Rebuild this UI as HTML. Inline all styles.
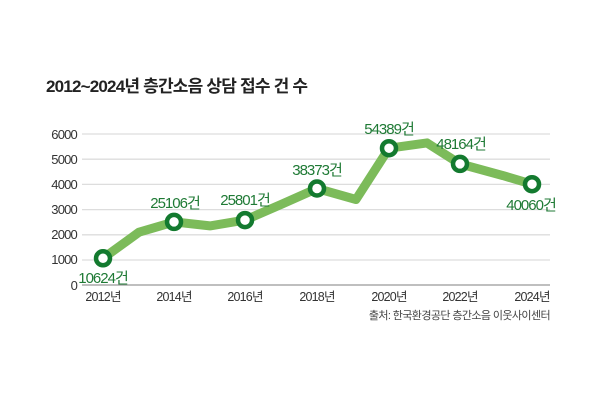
<!DOCTYPE html>
<html><head><meta charset="utf-8"><style>
body{margin:0;background:#fff;}
svg text{font-family:"Liberation Sans","Noto Sans CJK KR",sans-serif;}
</style></head><body>
<svg width="600" height="400" viewBox="0 0 600 400">
<rect width="600" height="400" fill="#fff"/>
<text x="46" y="92" font-size="17" font-weight="bold" fill="#222" letter-spacing="-0.8">2012~2024년 층간소음 상담 접수 건 수</text>
<g stroke="#ddd" stroke-width="1.3">
<line x1="82" y1="134" x2="550" y2="134"/>
<line x1="82" y1="159.2" x2="550" y2="159.2"/>
<line x1="82" y1="184.4" x2="550" y2="184.4"/>
<line x1="82" y1="209.6" x2="550" y2="209.6"/>
<line x1="82" y1="234.8" x2="550" y2="234.8"/>
<line x1="82" y1="260" x2="550" y2="260"/>
</g>
<line x1="82" y1="285" x2="550" y2="285" stroke="#999" stroke-width="1.3"/>
<g font-size="13" fill="#333" text-anchor="end" letter-spacing="-0.8">
<text x="77" y="139">6000</text><text x="77" y="164">5000</text><text x="77" y="189">4000</text>
<text x="77" y="214">3000</text><text x="77" y="239">2000</text><text x="77" y="264">1000</text><text x="77" y="290">0</text>
</g>
<g font-size="12.5" fill="#333" text-anchor="middle" letter-spacing="-0.8">
<text x="103" y="301">2012년</text><text x="174" y="301">2014년</text><text x="245" y="301">2016년</text>
<text x="317" y="301">2018년</text><text x="389" y="301">2020년</text><text x="460" y="301">2022년</text><text x="532" y="301">2024년</text>
</g>
<text x="550" y="319" font-size="11" fill="#444" text-anchor="end" letter-spacing="-0.6">출처: 한국환경공단 층간소음 이웃사이센터</text>
<polyline fill="none" stroke="#7cbb5a" stroke-width="9" stroke-linejoin="round" stroke-linecap="round"
points="103,258.3 139,232.2 174,221.9 210,225.9 245,220.1 281,204.5 317,188.5 356,199.5 389,148.2 427,142.9 460,163.9 503,175.6 532,184.2"/>
<g fill="#fff" stroke="#137a2f" stroke-width="4.5">
<circle cx="103" cy="258.3" r="7"/><circle cx="174" cy="221.9" r="7"/><circle cx="245" cy="220.1" r="7"/>
<circle cx="317" cy="188.5" r="7"/><circle cx="389" cy="148.2" r="7"/><circle cx="460" cy="163.9" r="7"/><circle cx="532" cy="184.2" r="7"/>
</g>
<g font-size="15" fill="#1f7a35" text-anchor="middle" letter-spacing="-1">
<text x="103" y="283">10624건</text>
<text x="175" y="208">25106건</text>
<text x="245" y="205">25801건</text>
<text x="317" y="175">38373건</text>
<text x="389" y="134">54389건</text>
<text x="461" y="149">48164건</text>
<text x="531" y="210">40060건</text>
</g>
</svg>
</body></html>
